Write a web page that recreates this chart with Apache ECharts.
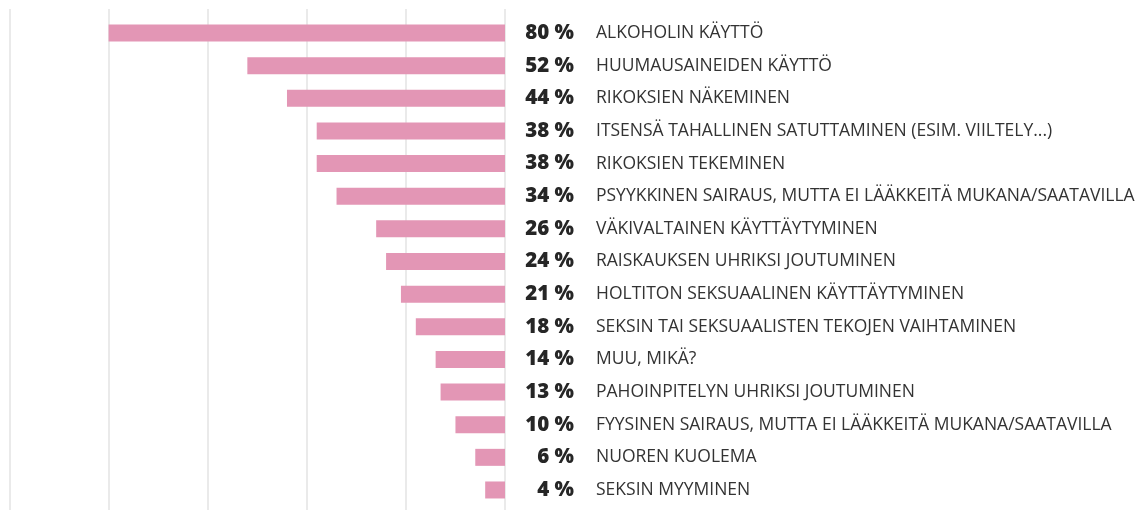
<!DOCTYPE html>
<html>
<head>
<meta charset="utf-8">
<script src="https://cdn.jsdelivr.net/npm/echarts@6/dist/echarts.min.js"></script>
<style>
html,body{margin:0;padding:0;background:#fff;}
#c{width:1141px;height:510px;}
</style>
</head>
<body>
<div id="c"></div>
<script>
const categories = [
  'ALKOHOLIN KÄYTTÖ',
  'HUUMAUSAINEIDEN KÄYTTÖ',
  'RIKOKSIEN NÄKEMINEN',
  'ITSENSÄ TAHALLINEN SATUTTAMINEN (ESIM. VIILTELY...)',
  'RIKOKSIEN TEKEMINEN',
  'PSYYKKINEN SAIRAUS, MUTTA EI LÄÄKKEITÄ MUKANA/SAATAVILLA',
  'VÄKIVALTAINEN KÄYTTÄYTYMINEN',
  'RAISKAUKSEN UHRIKSI JOUTUMINEN',
  'HOLTITON SEKSUAALINEN KÄYTTÄYTYMINEN',
  'SEKSIN TAI SEKSUAALISTEN TEKOJEN VAIHTAMINEN',
  'MUU, MIKÄ?',
  'PAHOINPITELYN UHRIKSI JOUTUMINEN',
  'FYYSINEN SAIRAUS, MUTTA EI LÄÄKKEITÄ MUKANA/SAATAVILLA',
  'NUOREN KUOLEMA',
  'SEKSIN MYYMINEN'
];
const values = [80, 52, 44, 38, 38, 34, 26, 24, 21, 18, 14, 13, 10, 6, 4];
const xTicks = [0, 20, 40, 60, 80, 100];

const valueLabels = values.map(v => v + ' %');

const chart = echarts.init(document.getElementById('c'), null, {renderer: 'canvas'});
chart.setOption({
  animation: false,
  backgroundColor: '#ffffff',
  grid: [
    {left: 9.5, right: 636, top: 9, bottom: 0, containLabel: false},
    {left: 9.5, right: 636, top: 16.7, bottom: 3.7, containLabel: false}
  ],
  xAxis: [
    {
      gridIndex: 0, type: 'value', inverse: true, min: xTicks[0], max: xTicks[xTicks.length - 1], interval: 20,
      axisLine: {show: false}, axisTick: {show: false}, axisLabel: {show: false},
      splitLine: {show: true, lineStyle: {color: '#e3e3e3', width: 1.5}}
    },
    {
      gridIndex: 1, type: 'value', inverse: true, min: 0, max: 100, interval: 20,
      axisLine: {show: false}, axisTick: {show: false}, axisLabel: {show: false},
      splitLine: {show: false}
    }
  ],
  yAxis: [
    {gridIndex: 0, type: 'category', show: false, data: categories},
    {
      gridIndex: 1, type: 'category', position: 'right', inverse: true, data: valueLabels,
      axisLine: {show: false}, axisTick: {show: false}, splitLine: {show: false},
      axisLabel: {
        margin: 69, align: 'right', color: '#262626', fontFamily: 'Open Sans',
        fontWeight: 800, fontSize: 20.5, padding: [4, 0, 0, 0]
      }
    },
    {
      gridIndex: 1, type: 'category', position: 'right', inverse: true, data: categories,
      axisLine: {show: false}, axisTick: {show: false}, splitLine: {show: false},
      axisLabel: {
        margin: 91, align: 'left', color: '#333333', fontFamily: 'Open Sans',
        fontSize: 17.5, padding: [4, 0, 0, 0]
      }
    }
  ],
  series: [{
    type: 'bar',
    xAxisIndex: 1,
    yAxisIndex: 2,
    data: values,
    barWidth: 17,
    itemStyle: {color: '#e396b5'},
    silent: true
  }]
});
</script>
</body>
</html>
